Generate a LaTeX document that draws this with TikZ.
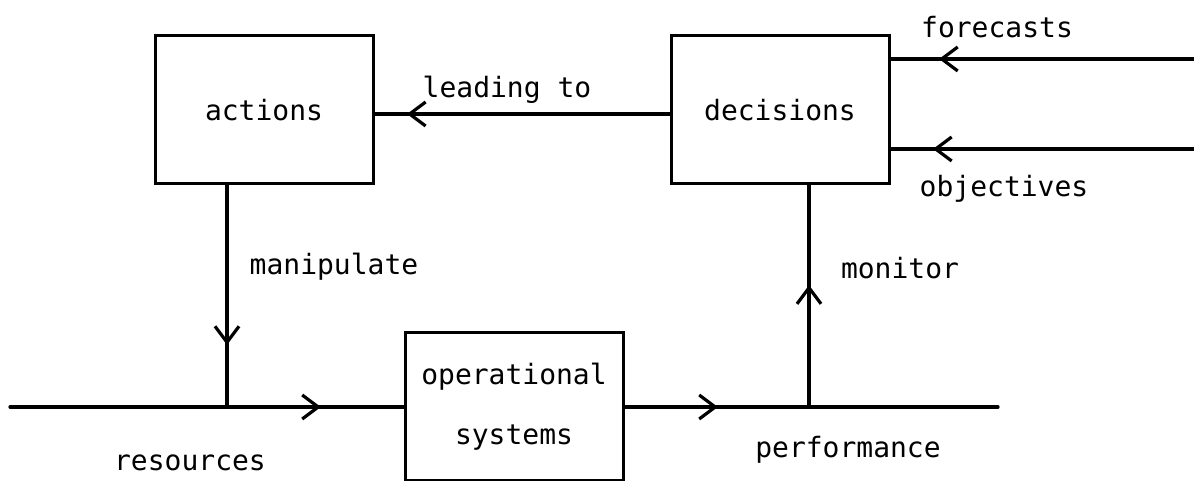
\documentclass[tikz,border=0pt]{standalone}
\usepackage{fontspec}
\setmainfont{DejaVu Sans Mono}
\usetikzlibrary{positioning, arrows.meta, decorations.markings}

\begin{document}
\begin{tikzpicture}[
    x=0.5pt, y=0.5pt,
    >={Straight Barb[length=8pt, width=12pt]},
    font=\fontsize{14pt}{17pt}\selectfont,
    box/.style={rectangle, draw=black, line width=1.5pt, minimum width=109pt, minimum height=74pt, align=center},
    wire/.style={draw=black, line width=1.6pt, line cap=round},
    flow/.style={postaction={decorate}, decoration={markings, mark=at position #1 with {\arrow{>}}}},
]
\useasboundingbox (0,0) rectangle (1194,481);

% Boxes
\node[box] (actions) at (264,371) {actions};
\node[box] (decisions) at (780,371) {decisions};
\node[box, font=\fontsize{14pt}{30pt}\selectfont] (opsys) at (514,74) {operational\\systems};

% Free ends and junctions
\coordinate (resin) at (10,74);
\coordinate (manjoin) at (227,74);
\coordinate (monjoin) at (809,74);
\coordinate (perfout) at (998,74);
\coordinate (fcin) at (1194,422);
\coordinate (objin) at (1194,332);

% Main flow
\draw[wire, flow=0.79] (resin) -- (opsys.west);
\draw[wire, flow=0.25] (opsys.east) -- (perfout);

% Control loop
\draw[wire, flow=0.72] (actions.south -| manjoin) -- (manjoin);
\draw[wire, flow=0.55] (monjoin) -- (decisions.south -| monjoin);
\draw[wire, flow=0.89] ([yshift=-2pt]decisions.west) -- ([yshift=-2pt]actions.east);

% Inputs to decisions
\draw[wire, flow=0.84] (fcin) -- (decisions.east |- fcin);
\draw[wire, flow=0.86] (objin) -- (decisions.east |- objin);

% Labels
\node (leadlbl) at (507,391) {leading to};
\node (fclbl) at (997,454) {forecasts};
\node (objlbl) at (1004,292) {objectives};
\node (manlbl) at (334,214) {manipulate};
\node (monlbl) at (900,213) {monitor};
\node (reslbl) at (190,18) {resources};
\node (perflbl) at (848,31) {performance};

\end{tikzpicture}
\end{document}
